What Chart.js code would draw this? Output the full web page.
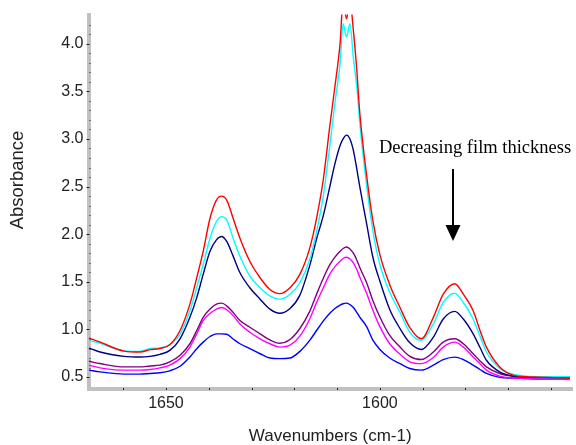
<!DOCTYPE html>
<html>
<head>
<meta charset="utf-8">
<script src="https://cdn.jsdelivr.net/npm/chart.js@4.4.0/dist/chart.umd.min.js"></script>
<style>
  html, body { margin: 0; padding: 0; background: #fff; }
  #wrap { width: 576px; height: 445px; }
</style>
</head>
<body>
<div id="wrap"><canvas id="chart-area"></canvas></div>
<script>
// wavenumbers (cm-1)
var wavenumbers = [1668, 1665.4, 1659.8, 1656.1, 1653.7, 1651.4, 1649.1, 1646.7, 1644.4, 1642.8,
    1641.3, 1639.7, 1638.2, 1637.0, 1635.8, 1634.3, 1632.7, 1630.4, 1628.0, 1625.7,
    1623.4, 1621.0, 1618.7, 1616.4, 1614.8, 1613.2, 1611.7, 1610.5, 1609.3, 1608.6,
    1607.8, 1607.0, 1606.2, 1605.4, 1604.7, 1603.1, 1601.6, 1600.0, 1597.7, 1595.3,
    1593.0, 1590.3, 1587.5, 1585.2, 1582.5, 1580.5, 1578.2, 1576.6, 1575.1, 1572.0,
    1568.9, 1565.7, 1562.6, 1555.6];

var redSeries = [0.91, 0.867, 0.773, 0.763, 0.788, 0.80, 0.84, 0.989, 1.266, 1.543,
    1.82, 2.167, 2.357, 2.40, 2.357, 2.167, 1.958, 1.716, 1.543, 1.42,
    1.376, 1.439, 1.578, 1.854, 2.167, 2.582, 3.137, 3.553, 4.003, 4.45,
    4.26, 4.45, 4.14, 3.726, 3.275, 2.617, 2.132, 1.786, 1.47, 1.23,
    1.02, 0.902, 1.127, 1.37, 1.48, 1.37, 1.196, 0.99, 0.815, 0.607,
    0.52, 0.503, 0.50, 0.487];
var cyanSeries = [0.885, 0.855, 0.775, 0.77, 0.80, 0.805, 0.84, 0.95, 1.196, 1.439,
    1.682, 1.958, 2.132, 2.184, 2.15, 1.958, 1.768, 1.56, 1.439, 1.352,
    1.318, 1.37, 1.49, 1.734, 2.028, 2.41, 2.93, 3.38, 3.795, 4.21,
    4.07, 4.21, 3.85, 3.55, 3.17, 2.513, 2.028, 1.682, 1.39, 1.18,
    0.971, 0.885, 1.058, 1.283, 1.38, 1.283, 1.11, 0.93, 0.763, 0.59,
    0.53, 0.51, 0.505, 0.503];
var navySeries = [0.805, 0.763, 0.718, 0.711, 0.718, 0.739, 0.78, 0.902, 1.127, 1.334,
    1.578, 1.82, 1.94, 1.976, 1.924, 1.77, 1.595, 1.438, 1.318, 1.214,
    1.17, 1.22, 1.36, 1.67, 1.95, 2.20, 2.50, 2.74, 2.93, 3.0,
    3.04, 3.0, 2.88, 2.686, 2.50, 2.11, 1.75, 1.508, 1.21, 1.01,
    0.86, 0.79, 0.919, 1.11, 1.19, 1.11, 0.954, 0.81, 0.677, 0.555,
    0.51, 0.50, 0.497, 0.497];
var purpleSeries = [0.666, 0.642, 0.607, 0.607, 0.617, 0.625, 0.659, 0.729, 0.85, 0.989,
    1.127, 1.214, 1.266, 1.276, 1.248, 1.179, 1.093, 1.023, 0.954, 0.89,
    0.856, 0.895, 1.01, 1.19, 1.37, 1.54, 1.68, 1.76, 1.82, 1.85,
    1.865, 1.845, 1.80, 1.73, 1.65, 1.49, 1.30, 1.13, 0.937, 0.815,
    0.718, 0.684, 0.763, 0.867, 0.902, 0.85, 0.745, 0.67, 0.607, 0.538,
    0.51, 0.50, 0.497, 0.497];
var magentaSeries = [0.625, 0.597, 0.573, 0.573, 0.58, 0.597, 0.625, 0.694, 0.815, 0.954,
    1.093, 1.168, 1.214, 1.231, 1.207, 1.145, 1.057, 0.971, 0.902, 0.85,
    0.815, 0.835, 0.93, 1.11, 1.283, 1.44, 1.58, 1.66, 1.715, 1.745,
    1.758, 1.74, 1.70, 1.63, 1.55, 1.38, 1.196, 1.03, 0.85, 0.74,
    0.66, 0.641, 0.705, 0.815, 0.867, 0.815, 0.71, 0.64, 0.573, 0.51,
    0.49, 0.485, 0.48, 0.475];
var blueSeries = [0.573, 0.555, 0.531, 0.531, 0.538, 0.545, 0.566, 0.614, 0.711, 0.798,
    0.867, 0.926, 0.954, 0.954, 0.95, 0.90, 0.85, 0.798, 0.745, 0.70,
    0.694, 0.70, 0.77, 0.885, 0.989, 1.09, 1.17, 1.22, 1.255, 1.27,
    1.276, 1.26, 1.23, 1.18, 1.13, 1.03, 0.885, 0.79, 0.70, 0.641,
    0.59, 0.573, 0.625, 0.684, 0.71, 0.684, 0.625, 0.58, 0.538, 0.497,
    0.49, 0.485, 0.48, 0.48];

// tick labels
var xTickLabels = [1650, 1600];
var xMinorTicks = [1660, 1640, 1630, 1620, 1610, 1590, 1580, 1570, 1560];
var yTickLabels = [0.5, 1.0, 1.5, 2.0, 2.5, 3.0, 3.5, 4.0];
var yMinorTicks = [0.6, 0.7, 0.8, 0.9, 1.1, 1.2, 1.3, 1.4, 1.6, 1.7, 1.8, 1.9,
    2.1, 2.2, 2.3, 2.4, 2.6, 2.7, 2.8, 2.9, 3.1, 3.2, 3.3, 3.4,
    3.6, 3.7, 3.8, 3.9, 4.1, 4.2];

function points(values) {
    return values.map(function(v, i) { return { x: wavenumbers[i], y: v }; });
}

function line(values, color) {
    return {
        data: points(values),
        borderColor: color,
        borderWidth: 1.4,
        pointRadius: 0,
        cubicInterpolationMode: 'monotone',
        fill: false
    };
}

// small dark tick marks sitting on the grey axis bars, plus the text overlays
var overlay = {
    id: 'overlay',
    afterDraw: function(chart) {
        var ctx = chart.ctx;
        var area = chart.chartArea;
        var xs = chart.scales.x, ys = chart.scales.y;
        ctx.save();
        ctx.fillStyle = '#222';
        ys.ticks.forEach(function(t) {
            var py = Math.round(ys.getPixelForValue(t.value));
            if (yTickLabels.indexOf(t.value) >= 0) {
                ctx.fillRect(area.left - 2, py, 3, 1);
            } else {
                ctx.fillRect(area.left + 1, py, 1, 1);
            }
        });
        xs.ticks.forEach(function(t) {
            var px = Math.round(xs.getPixelForValue(t.value));
            ctx.fillRect(px, area.bottom - 1, 1, 2);
        });

        // y axis title
        ctx.fillStyle = '#222';
        ctx.font = '18.5px "Liberation Sans", Arial, sans-serif';
        ctx.textAlign = 'center';
        ctx.textBaseline = 'middle';
        ctx.translate(18, 180);
        ctx.rotate(-Math.PI / 2);
        ctx.fillText('Absorbance', 0, 0);
        ctx.restore();

        // annotation with arrow
        ctx.save();
        ctx.fillStyle = '#000';
        ctx.strokeStyle = '#000';
        ctx.font = '18.5px "Liberation Serif", "Times New Roman", serif';
        ctx.textAlign = 'left';
        ctx.textBaseline = 'alphabetic';
        ctx.fillText('Decreasing film thickness', 379, 153);
        ctx.lineWidth = 2;
        ctx.beginPath();
        ctx.moveTo(453, 169);
        ctx.lineTo(453, 227);
        ctx.stroke();
        ctx.beginPath();
        ctx.moveTo(445.5, 225);
        ctx.lineTo(460.5, 225);
        ctx.lineTo(453, 241);
        ctx.closePath();
        ctx.fill();
        ctx.restore();
    }
};

var config = {
    type: 'line',
    data: {
        datasets: [
            line(redSeries, '#ff0000'),
            line(cyanSeries, '#00ffff'),
            line(navySeries, '#000080'),
            line(purpleSeries, '#800080'),
            line(magentaSeries, '#ff00ff'),
            line(blueSeries, '#0000ff')
        ]
    },
    options: {
        responsive: true,
        maintainAspectRatio: false,
        animation: false,
        layout: { padding: { top: 11, right: 4, left: 0, bottom: 0 } },
        plugins: {
            legend: { display: false },
            tooltip: { enabled: false }
        },
        scales: {
            x: {
                type: 'linear',
                reverse: true,
                min: 1555.1,
                max: 1668.1,
                afterBuildTicks: function(scale) {
                    scale.ticks = xTickLabels.concat(xMinorTicks).map(function(v) { return { value: v }; });
                },
                afterFit: function(scale) { scale.height = 56; },
                border: { display: true, color: '#c0c0c0', width: 4 },
                grid: { display: true, drawOnChartArea: false, drawTicks: false },
                ticks: {
                    autoSkip: false,
                    maxRotation: 0,
                    padding: 5,
                    color: '#222',
                    font: { family: '"Liberation Sans", Arial, sans-serif', size: 16 },
                    callback: function(v) { return xTickLabels.indexOf(v) >= 0 ? String(v) : ''; }
                },
                title: {
                    display: true,
                    text: 'Wavenumbers (cm-1)',
                    color: '#222',
                    font: { family: '"Liberation Sans", Arial, sans-serif', size: 17, lineHeight: 1 },
                    padding: { top: 0, bottom: 0 }
                }
            },
            y: {
                type: 'linear',
                min: 0.375,
                max: 4.305,
                afterBuildTicks: function(scale) {
                    scale.ticks = yTickLabels.concat(yMinorTicks).map(function(v) { return { value: v }; });
                },
                afterFit: function(scale) { scale.width = 88.5; },
                border: { display: true, color: '#c0c0c0', width: 4 },
                grid: { display: true, drawOnChartArea: false, drawTicks: false },
                ticks: {
                    autoSkip: false,
                    padding: 5,
                    color: '#222',
                    font: { family: '"Liberation Sans", Arial, sans-serif', size: 16 },
                    callback: function(v) { return yTickLabels.indexOf(v) >= 0 ? v.toFixed(1) : ''; }
                }
            }
        }
    },
    plugins: [overlay]
};

window.onload = function() {
    var ctx = document.getElementById('chart-area').getContext('2d');
    window.myChart = new Chart(ctx, config);
};
</script>
</body>
</html>
